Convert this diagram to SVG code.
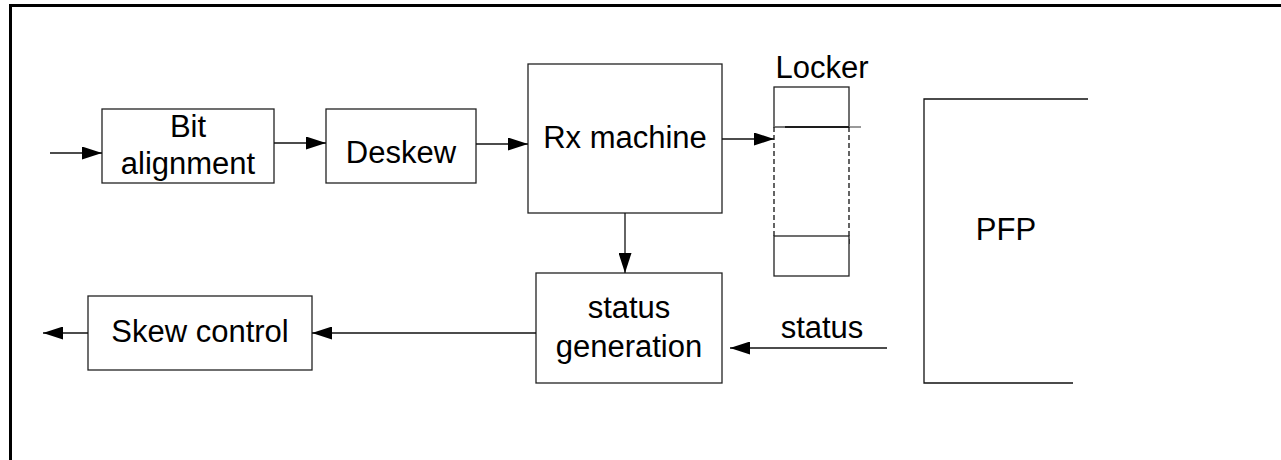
<svg xmlns="http://www.w3.org/2000/svg" width="1281" height="460" viewBox="0 0 1281 460">
<style>
.box{fill:#fff;stroke:#222;stroke-width:1.3}
.ln{fill:none;stroke:#111;stroke-width:1.3}
.dash{fill:none;stroke:#111;stroke-width:1.3;stroke-dasharray:5,3}
text{font-family:"Liberation Sans",Arial,sans-serif;font-size:31px;fill:#000;text-anchor:middle}
</style>
<defs>
<marker id="ah" viewBox="0 0 20 13" refX="20" refY="6.5" markerWidth="20" markerHeight="13" markerUnits="userSpaceOnUse" orient="auto">
<path d="M0,0 L20,6.5 L0,13 Z" fill="#000"/>
</marker>
</defs>
<rect width="1281" height="460" fill="#fff"/>
<path d="M10.5,460 V5.5 H1281" fill="none" stroke="#000" stroke-width="3"/>

<g id="bit-alignment">
<rect class="box" x="102" y="109" width="172" height="74"/>
<text x="188" y="137">Bit</text>
<text x="188" y="174">alignment</text>
</g>
<g id="deskew">
<rect class="box" x="326" y="109" width="150" height="74"/>
<text x="401" y="163">Deskew</text>
</g>
<g id="rx-machine">
<rect class="box" x="528" y="64" width="194" height="149"/>
<text x="625" y="148">Rx machine</text>
</g>
<g id="locker">
<text x="822" y="78">Locker</text>
<rect class="box" x="774" y="87" width="75" height="40"/>
<path d="M774,127 H861" stroke="#777" stroke-width="1.3" fill="none"/>
<path d="M785,127 H849" stroke="#000" stroke-width="1.6" fill="none"/>
<path class="dash" d="M774,127 V236"/>
<path class="dash" d="M849,127 V247"/>
<rect class="box" x="774" y="236" width="75" height="40"/>
</g>
<g id="pfp">
<path class="ln" d="M1088,99 H924 V383 H1073"/>
<text x="1006" y="240">PFP</text>
</g>
<g id="status-generation">
<rect class="box" x="536" y="273" width="186" height="110"/>
<text x="629" y="318">status</text>
<text x="629" y="357">generation</text>
</g>
<g id="skew-control">
<rect class="box" x="88" y="296" width="224" height="74"/>
<text x="200" y="342">Skew control</text>
</g>

<g id="connectors">
<path class="ln" d="M50,153 H102" marker-end="url(#ah)"/>
<path class="ln" d="M274,143 H326" marker-end="url(#ah)"/>
<path class="ln" d="M476,144 H528" marker-end="url(#ah)"/>
<path class="ln" d="M722,139 H774" marker-end="url(#ah)"/>
<path class="ln" d="M625,213 V273" marker-end="url(#ah)"/>
<path class="ln" d="M536,333 H312" marker-end="url(#ah)"/>
<path class="ln" d="M88,333 H43" marker-end="url(#ah)"/>
<path class="ln" d="M887,348 H730" marker-end="url(#ah)"/>
<text x="822" y="338">status</text>
</g>
</svg>
